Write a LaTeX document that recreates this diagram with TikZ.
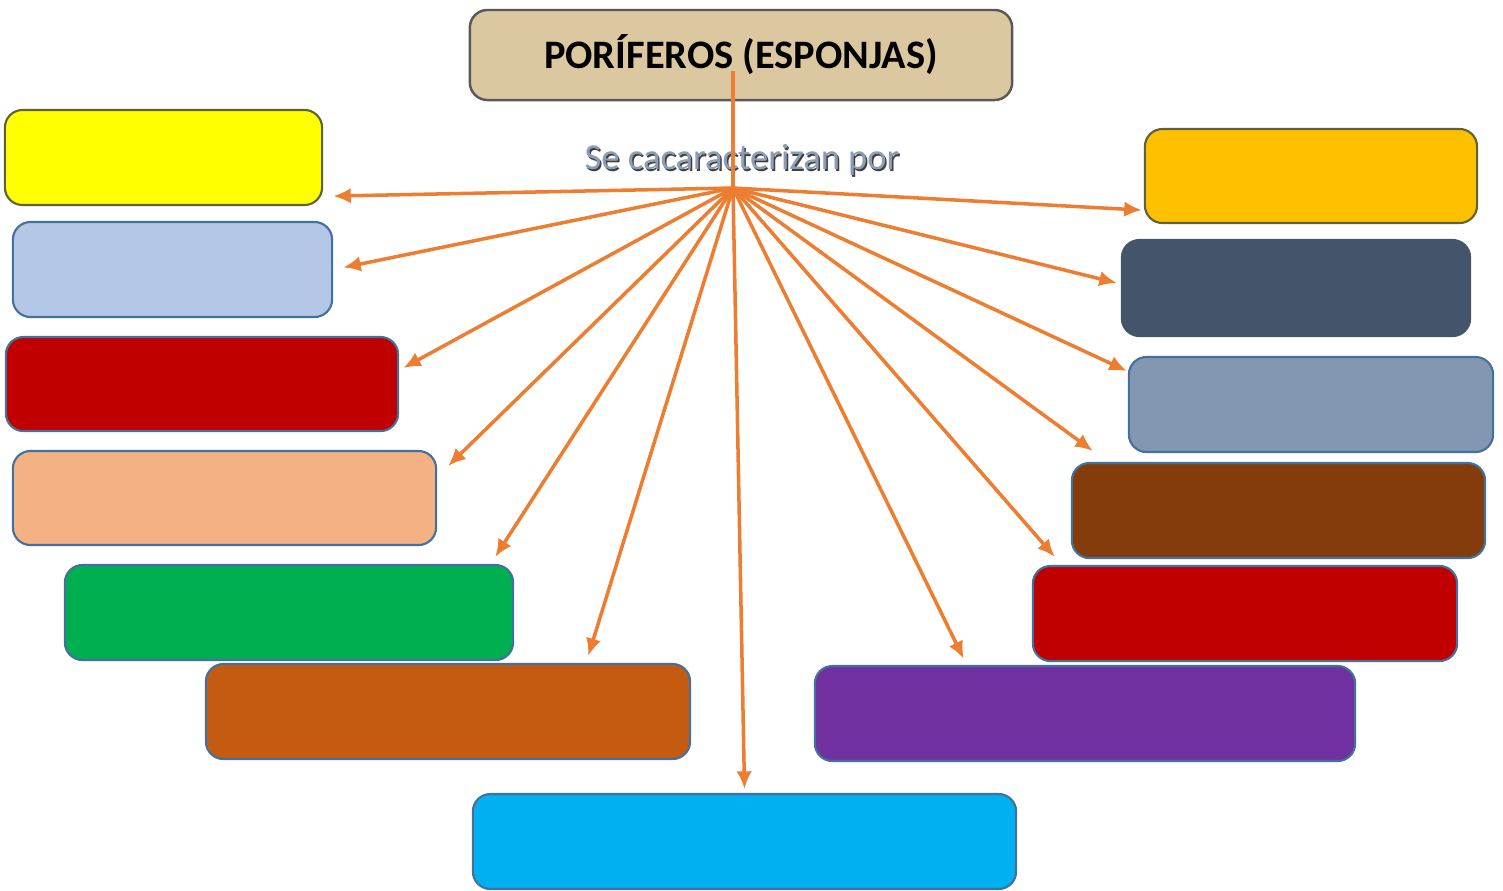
\documentclass[tikz,border=0pt]{standalone}
\usepackage{fontspec}
\setmainfont{Carlito}
\usetikzlibrary{arrows.meta}
\usetikzlibrary{calc}

\definecolor{papyrus}{HTML}{DBC8A0}
\definecolor{linkorange}{HTML}{ED7D31}
\definecolor{outlineblue}{HTML}{41719C}
\definecolor{outlineolive}{HTML}{5E6236}
\definecolor{c_yellow}{HTML}{FFFF00}
\definecolor{c_lightblue}{HTML}{B4C7E7}
\definecolor{c_darkred}{HTML}{C00000}
\definecolor{c_peach}{HTML}{F4B183}
\definecolor{c_green}{HTML}{00B050}
\definecolor{c_rust}{HTML}{C55A11}
\definecolor{c_cyan}{HTML}{00B0F0}
\definecolor{c_gold}{HTML}{FFC000}
\definecolor{c_slate}{HTML}{44546A}
\definecolor{c_greyblue}{HTML}{8497B0}
\definecolor{c_brown}{HTML}{843C0C}
\definecolor{c_purple}{HTML}{7030A0}
\definecolor{subtitle}{HTML}{8E9DB6}

\begin{document}
\begin{tikzpicture}[x=0.01cm, y=-0.01cm,
        title_style/.style={rectangle,rounded corners=5pt,draw=gray!70!black,line width=0.7pt,fill=papyrus,minimum width=5.42cm,minimum height=0.9cm,font=\fontsize{11.5}{13}\selectfont\bfseries},
        box_style/.style={rectangle,rounded corners=5pt,draw=outlineblue,line width=0.6pt,fill=#1,minimum height=0.95cm},
        edge_style/.style={draw=linkorange,line width=1pt,-{Latex[length=5pt,width=4.4pt]}},
        stem_style/.style={draw=linkorange,line width=1pt}]

        \useasboundingbox (0,0) rectangle (1503,890);

        \node [title_style](title) at (741,55) {PORÍFEROS (ESPONJAS)};

        \node [text=black!75,font=\fontsize{10.4}{12}\selectfont](subshadow) at (743.5,161.5) {Se cacaracterizan por};
        \node [text=subtitle,font=\fontsize{10.4}{12}\selectfont](sub) at (742,160) {Se cacaracterizan por};

        \coordinate (hub) at (733,188);

        % left column
        \node [box_style=c_yellow,draw=outlineolive,minimum width=3.17cm](yellow) at (163.5,157.5) {};
        \node [box_style=c_lightblue,minimum width=3.19cm](lightblue) at (172.5,269.5) {};
        \node [box_style=c_darkred,minimum width=3.92cm,minimum height=0.94cm](darkred) at (202,384) {};
        \node [box_style=c_peach,minimum width=4.23cm,minimum height=0.94cm](peach) at (224.5,498) {};
        \node [box_style=c_green,minimum width=4.48cm](green) at (289,612.5) {};
        \node [box_style=c_rust,minimum width=4.84cm](rust) at (448,711.5) {};

        % bottom
        \node [box_style=c_cyan,minimum width=5.43cm](cyan) at (744.5,841.5) {};

        % right column
        \node [box_style=c_gold,draw=outlineolive,minimum width=3.32cm,minimum height=0.94cm](gold) at (1311,176) {};
        \node [box_style=c_slate,draw=c_slate,minimum width=3.48cm,minimum height=0.96cm](slate) at (1296,288) {};
        \node [box_style=c_greyblue,minimum width=3.64cm](greyblue) at (1311,404.5) {};
        \node [box_style=c_brown,minimum width=4.13cm](brown) at (1278.5,510.5) {};
        \node [box_style=c_darkred,minimum width=4.24cm](red) at (1245,613.5) {};
        \node [box_style=c_purple,minimum width=5.40cm](purple) at (1085,713.5) {};

        \draw [stem_style] ($(title.south)+(-8,-30)$) -- (hub);

        \draw [edge_style] (hub) -- ($(yellow.south east)+(10,-10)$);
        \draw [edge_style] (hub) -- ($(lightblue.east)+(10,-2)$);
        \draw [edge_style] (hub) -- ($(darkred.east)+(4,-16)$);
        \draw [edge_style] (hub) -- ($(peach.north east)+(11,16)$);
        \draw [edge_style] (hub) -- ($(green.north east)+(-19,-7)$);
        \draw [edge_style] (hub) -- ($(rust.north east)+(-103,-7)$);
        \draw [edge_style] (hub) -- ($(cyan.north)+(0,-4)$);
        \draw [edge_style] (hub) -- ($(gold.south west)+(-2,-14)$);
        \draw [edge_style] (hub) -- ($(slate.west)+(-4,-5)$);
        \draw [edge_style] (hub) -- ($(greyblue.north west)+(-1,15)$);
        \draw [edge_style] (hub) -- ($(brown.north west)+(22,-11)$);
        \draw [edge_style] (hub) -- ($(red.north west)+(23,-8)$);
        \draw [edge_style] (hub) -- ($(purple.north west)+(150,-6)$);

        \end{tikzpicture}
\end{document}
